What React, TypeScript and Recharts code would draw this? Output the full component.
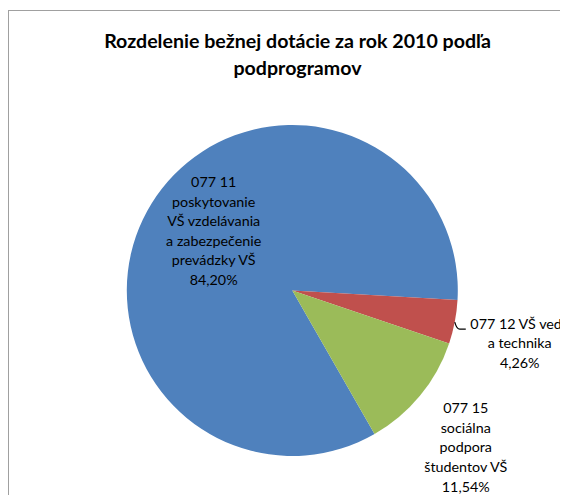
import { PieChart, Pie, Cell } from 'recharts';

// Rozdelenie bežnej dotácie 2010 (podiel v %)
const categories = [
  '077 11 poskytovanie VŠ vzdelávania a zabezpečenie prevádzky VŠ',
  '077 12 VŠ veda a technika',
  '077 15 sociálna podpora študentov VŠ',
];
const shares = [84.2, 4.26, 11.54];
const labelLines = [
  ['077 11', 'poskytovanie', 'VŠ vzdelávania', 'a zabezpečenie', 'prevádzky VŠ'],
  ['077 12 VŠ veda', 'a technika'],
  ['077 15', 'sociálna', 'podpora', 'študentov VŠ'],
];
const titleLines = ['Rozdelenie bežnej dotácie za rok 2010 podľa', 'podprogramov'];

const COLORS = ['#4F81BD', '#C0504D', '#9BBB59'];
const FONT = 'Lato, Calibri, sans-serif';
const RAD = Math.PI / 180;

// where each data label sits, relative to the slice's mid angle
const labelPlacement = [
  { r: 0.58, dx: 3, dy: -4, leader: false },
  { r: 1.418, dx: -3, dy: 13, leader: true },
  { r: 1.435, dx: -10, dy: 11, leader: false },
];

const data = categories.map((name, i) => ({ name, value: shares[i] }));

const fmt = (v: number) => v.toFixed(2).replace('.', ',') + '%';

function renderLabel(props: any) {
  const { cx, cy, midAngle, outerRadius, index } = props;
  const p = labelPlacement[index];
  const ax = cx + outerRadius * p.r * Math.cos(-midAngle * RAD) + p.dx;
  const ay = cy + outerRadius * p.r * Math.sin(-midAngle * RAD) + p.dy;
  const lines = [...labelLines[index], fmt(shares[index])];
  const lh = 19.6;
  const first = ay - ((lines.length - 1) / 2) * lh;

  let leader = null;
  if (p.leader) {
    const sx = cx + outerRadius * Math.cos(-midAngle * RAD);
    const sy = cy + outerRadius * Math.sin(-midAngle * RAD);
    const ly = first + 0.5;
    leader = (
      <path
        d={`M${sx},${sy} Q${sx + 2},${ly} ${sx + 5},${ly} L${sx + 11},${ly}`}
        fill="none"
        stroke="#000"
        strokeWidth={1.2}
      />
    );
  }

  return (
    <g>
      {leader}
      <text x={ax} y={first} textAnchor="middle" fontFamily={FONT} fontSize={14.3} fill="#000">
        {lines.map((t, i) => (
          <tspan key={i} x={ax} y={first + i * lh}>
            {t}
          </tspan>
        ))}
      </text>
    </g>
  );
}

export default function App() {
  return (
    <div style={{ position: 'relative', width: 560, height: 487, overflow: 'hidden' }}>
      <div
        style={{
          position: 'absolute',
          left: 0,
          top: 2,
          width: 620,
          height: 620,
          border: '1px solid #a0a0a0',
          background: '#fff',
        }}
      />
      <div style={{ position: 'absolute', left: 0, top: 0 }}>
        <PieChart width={560} height={487} margin={{ top: 0, right: 0, bottom: 0, left: 0 }}>
          <text x={289.5} y={40.3} textAnchor="middle" fontFamily={FONT} fontWeight="bold" fontSize={19.6} fill="#000">
            {titleLines[0]}
          </text>
          <text x={289.5} y={67} textAnchor="middle" fontFamily={FONT} fontWeight="bold" fontSize={19.6} fill="#000">
            {titleLines[1]}
          </text>
          <Pie
            data={data}
            dataKey="value"
            nameKey="name"
            cx={284.3}
            cy={282.5}
            outerRadius={165.5}
            startAngle={-60.2}
            endAngle={-420.2}
            stroke="none"
            labelLine={false}
            label={renderLabel}
            isAnimationActive={false}
          >
            {data.map((d, i) => (
              <Cell key={d.name} fill={COLORS[i]} />
            ))}
          </Pie>
        </PieChart>
      </div>
    </div>
  );
}
